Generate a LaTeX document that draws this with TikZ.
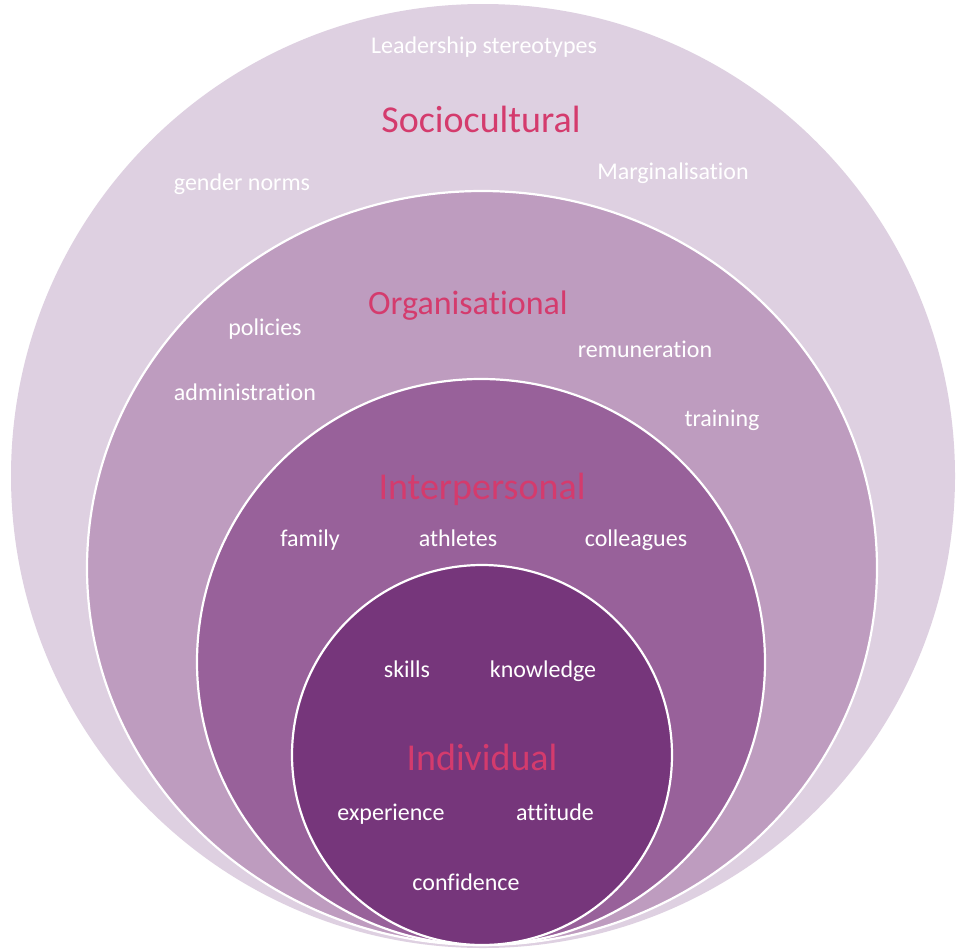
\documentclass[tikz,border=0pt]{standalone}
\usepackage{fontspec}
\setmainfont{Carlito}[Ligatures=NoCommon]
\usetikzlibrary{shapes.geometric}
\definecolor{ringA}{HTML}{DED0E1}
\definecolor{ringB}{HTML}{BE9CBF}
\definecolor{ringC}{HTML}{98619A}
\definecolor{ringD}{HTML}{76367B}
\definecolor{titlecol}{HTML}{D43B6D}
\begin{document}
\begin{tikzpicture}[x=1pt,y=-1pt,
  ring/.style={ellipse,inner sep=0pt,draw=white,line width=2.2pt},
  title/.style={text=titlecol,font=\fontsize{38}{44}\selectfont,inner sep=0pt,
    text height=31pt,text depth=6pt},
  lbl/.style={text=white,font=\fontsize{24}{28}\selectfont,inner sep=0pt,
    text height=19pt,text depth=3pt}]
\useasboundingbox[fill=white] (0,0) rectangle (961,951);
% nested spheres of influence, all meeting at the bottom
\node[ring,draw=none,fill=ringA,minimum width=944pt,minimum height=944pt] (socio) at (483,476) {};
\node[ring,fill=ringB,minimum width=790pt,minimum height=754pt] (org) at (482,568) {};
\node[ring,fill=ringC,minimum width=568pt,minimum height=566pt] (inter) at (481,662) {};
\node[ring,fill=ringD,minimum width=380pt,minimum height=380pt] (indiv) at (482,755) {};
% sociocultural level
\node[lbl] (lead) at (484,45) {Leadership stereotypes};
\node[title] (tsocio) at (481,120) {Sociocultural};
\node[lbl] (gender) at (242,182) {gender norms};
\node[lbl] (margin) at (673,171) {Marginalisation};
% organisational level
\node[title,font=\fontsize{34}{40}\selectfont] (torg) at (468,302) {Organisational};
\node[lbl] (policies) at (265,327) {policies};
\node[lbl] (remun) at (645,349) {remuneration};
\node[lbl] (admin) at (245,392) {administration};
\node[lbl] (training) at (722,418) {training};
% interpersonal level
\node[title] (tinter) at (482,487) {Interpersonal};
\node[lbl] (family) at (310,538) {family};
\node[lbl] (athletes) at (458,538) {athletes};
\node[lbl] (colleagues) at (636,538) {colleagues};
% individual level
\node[lbl] (skills) at (407,669) {skills};
\node[lbl] (knowledge) at (543,669) {knowledge};
\node[title] (tindiv) at (482,758) {Individual};
\node[lbl] (experience) at (391,812) {experience};
\node[lbl] (attitude) at (555,812) {attitude};
\node[lbl] (confidence) at (466,882) {confidence};
\end{tikzpicture}
\end{document}
